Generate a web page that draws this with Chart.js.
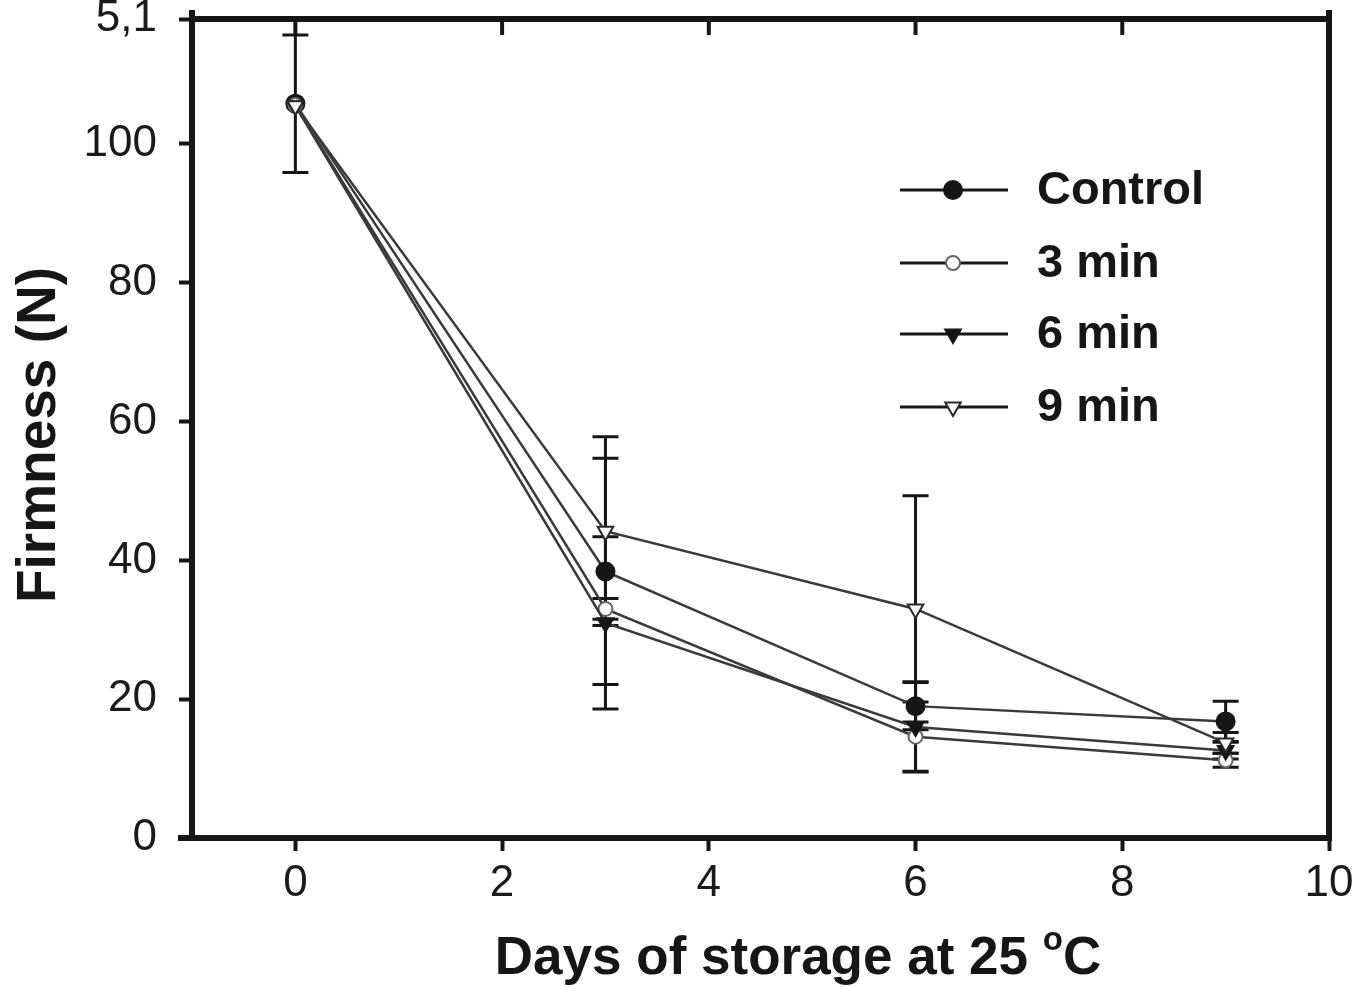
<!DOCTYPE html>
<html>
<head>
<meta charset="utf-8">
<script src="https://cdn.jsdelivr.net/npm/chart.js@4.4.0/dist/chart.umd.min.js"></script>
<style>
  html, body { margin: 0; padding: 0; background: #fff; }
  #wrap { width: 1360px; height: 987px; }
</style>
</head>
<body>
<div id="wrap"><canvas id="grafica" width="1360" height="987"></canvas></div>
<script>
// ── Datos ────────────────────────────────────────────────────────────────────
const dias = [0, 3, 6, 9];
const yTicks = [0, 20, 40, 60, 80, 100, 118];
const yTickLabels = ['0', '20', '40', '60', '80', '100', '5,1'];
const xTicks = [0, 2, 4, 6, 8, 10];

const control    = [105.8, 38.4, 19.0, 16.8];
const controlErr = [9.9, 16.3, 3.4, 2.9];
const min3       = [105.6, 33.0, 14.6, 11.2];
const min3Err    = [0, 1.5, 5.0, 1.0];
const min6       = [105.5, 31.0, 16.0, 12.6];
const min6Err    = [0, 12.4, 6.5, 1.2];
const min9       = [105.5, 44.2, 33.0, 13.7];
const min9Err    = [0, 13.6, 16.3, 1.5];

const FUENTE = "'Liberation Sans', Arial, sans-serif";
const NEGRO  = '#161616';

function serie(label, vals, err, estilo) {
    return Object.assign({
        label: label,
        data: dias.map((d, i) => ({ x: d, y: vals[i] })),
        err: err,
        showLine: true,
        borderColor: '#3a3a3a',
        borderWidth: 2.5,
        pointBorderWidth: 2,
        pointHoverRadius: 0,
    }, estilo);
}

const datasets = [
    serie('9 min', min9, min9Err, { pointStyle: 'triangle', pointRotation: 180, pointRadius: 9,
        pointBackgroundColor: '#fff', pointBorderColor: '#2a2a2a' }),
    serie('6 min', min6, min6Err, { pointStyle: 'triangle', pointRotation: 180, pointRadius: 9,
        pointBackgroundColor: NEGRO, pointBorderColor: NEGRO }),
    serie('3 min', min3, min3Err, { pointStyle: 'circle', pointRadius: 7,
        pointBackgroundColor: '#fff', pointBorderColor: '#666' }),
    serie('Control', control, controlErr, { pointStyle: 'circle', pointRadius: 9,
        pointBackgroundColor: NEGRO, pointBorderColor: NEGRO }),
];

// ── Barras de error ──────────────────────────────────────────────────────────
const barrasError = {
    id: 'barrasError',
    beforeDatasetsDraw(chart) {
        const ctx = chart.ctx, xs = chart.scales.x, ys = chart.scales.y;
        ctx.save();
        ctx.strokeStyle = NEGRO;
        ctx.lineWidth = 3;
        chart.data.datasets.forEach(ds => {
            ds.data.forEach((p, i) => {
                const e = ds.err[i];
                if (!e) return;
                const x = xs.getPixelForValue(p.x);
                const y1 = ys.getPixelForValue(p.y + e);
                const y2 = ys.getPixelForValue(p.y - e);
                ctx.beginPath();
                ctx.moveTo(x, y1); ctx.lineTo(x, y2);
                ctx.moveTo(x - 13, y1); ctx.lineTo(x + 13, y1);
                ctx.moveTo(x - 13, y2); ctx.lineTo(x + 13, y2);
                ctx.stroke();
            });
        });
        ctx.restore();
    }
};

// ── Marco, leyenda y títulos ─────────────────────────────────────────────────
const marco = {
    id: 'marco',
    afterDraw(chart) {
        const ctx = chart.ctx, a = chart.chartArea, xs = chart.scales.x;
        ctx.save();
        ctx.strokeStyle = NEGRO;
        ctx.lineWidth = 6;
        ctx.beginPath();
        ctx.moveTo(a.left, 10); ctx.lineTo(a.left, a.bottom);
        ctx.moveTo(a.right, 10); ctx.lineTo(a.right, a.bottom + 3);
        ctx.moveTo(a.left - 3, a.top); ctx.lineTo(a.right + 3, a.top);
        ctx.moveTo(178, a.bottom); ctx.lineTo(a.right + 3, a.bottom);
        ctx.stroke();
        // ticks interiores arriba
        ctx.lineWidth = 4;
        [0, 2, 4, 6, 8].forEach(v => {
            const x = xs.getPixelForValue(v);
            ctx.beginPath();
            ctx.moveTo(x, a.top); ctx.lineTo(x, a.top + 16);
            ctx.stroke();
        });

        // leyenda
        const filas = [190, 263, 334, 407];
        const orden = ['Control', '3 min', '6 min', '9 min'];
        orden.forEach((nombre, i) => {
            const ds = chart.data.datasets.find(d => d.label === nombre);
            const y = filas[i];
            ctx.strokeStyle = NEGRO;
            ctx.lineWidth = 3;
            ctx.beginPath();
            ctx.moveTo(900, y); ctx.lineTo(1008, y);
            ctx.stroke();
            ctx.fillStyle = ds.pointBackgroundColor;
            ctx.strokeStyle = ds.pointBorderColor;
            ctx.lineWidth = ds.pointBorderWidth;
            Chart.helpers.drawPoint(ctx, {
                pointStyle: ds.pointStyle, radius: ds.pointRadius,
                rotation: ds.pointRotation || 0, borderWidth: ds.pointBorderWidth
            }, 953, y);
            ctx.fillStyle = NEGRO;
            ctx.font = `bold 47px ${FUENTE}`;
            ctx.textAlign = 'left';
            ctx.textBaseline = 'middle';
            ctx.fillText(nombre, 1037, y + 1);
        });

        // título eje x con superíndice
        ctx.fillStyle = NEGRO;
        ctx.textBaseline = 'alphabetic';
        ctx.textAlign = 'left';
        ctx.font = `bold 53px ${FUENTE}`;
        const t1 = 'Days of storage at 25 ';
        const w1 = ctx.measureText(t1).width;
        ctx.font = `bold 33px ${FUENTE}`;
        const wo = ctx.measureText('o').width;
        ctx.font = `bold 53px ${FUENTE}`;
        const wc = ctx.measureText('C').width;
        let x0 = 798 - (w1 + wo + wc) / 2;
        ctx.fillText(t1, x0, 974);
        ctx.font = `bold 33px ${FUENTE}`;
        ctx.fillText('o', x0 + w1, 950);
        ctx.font = `bold 53px ${FUENTE}`;
        ctx.fillText('C', x0 + w1 + wo, 974);

        // título eje y
        ctx.save();
        ctx.translate(40, 435);
        ctx.rotate(-Math.PI / 2);
        ctx.textAlign = 'center';
        ctx.textBaseline = 'middle';
        ctx.font = `bold 55px ${FUENTE}`;
        ctx.fillText('Firmness (N)', 0, 0);
        ctx.restore();
        ctx.restore();
    }
};

new Chart(document.getElementById('grafica'), {
    type: 'scatter',
    data: { datasets: datasets },
    options: {
        responsive: false,
        animation: false,
        events: [],
        layout: { padding: { top: 19, right: 31, left: 0, bottom: 0 } },
        plugins: { legend: { display: false }, tooltip: { enabled: false } },
        scales: {
            x: {
                type: 'linear', min: -1, max: 10,
                afterFit: s => { s.height = 149; s.paddingLeft = 0; s.paddingRight = 0; },
                afterBuildTicks: s => { s.ticks = xTicks.map(v => ({ value: v })); },
                border: { display: false },
                grid: { drawOnChartArea: false, drawTicks: true, tickLength: 13, tickWidth: 4, color: NEGRO },
                ticks: { color: '#1a1a1a', font: { family: FUENTE, size: 44 }, padding: 6, maxRotation: 0 }
            },
            y: {
                type: 'linear', min: 0, max: 118,
                afterFit: s => { s.width = 192; s.paddingTop = 0; s.paddingBottom = 0; },
                afterBuildTicks: s => { s.ticks = yTicks.map(v => ({ value: v })); },
                border: { display: false },
                grid: { drawOnChartArea: false, drawTicks: true, tickLength: 13, tickWidth: 4, color: NEGRO },
                ticks: {
                    color: '#1a1a1a', font: { family: FUENTE, size: 44 }, padding: 22,
                    callback: v => yTickLabels[yTicks.indexOf(v)]
                }
            }
        }
    },
    plugins: [barrasError, marco]
});
</script>
</body>
</html>
